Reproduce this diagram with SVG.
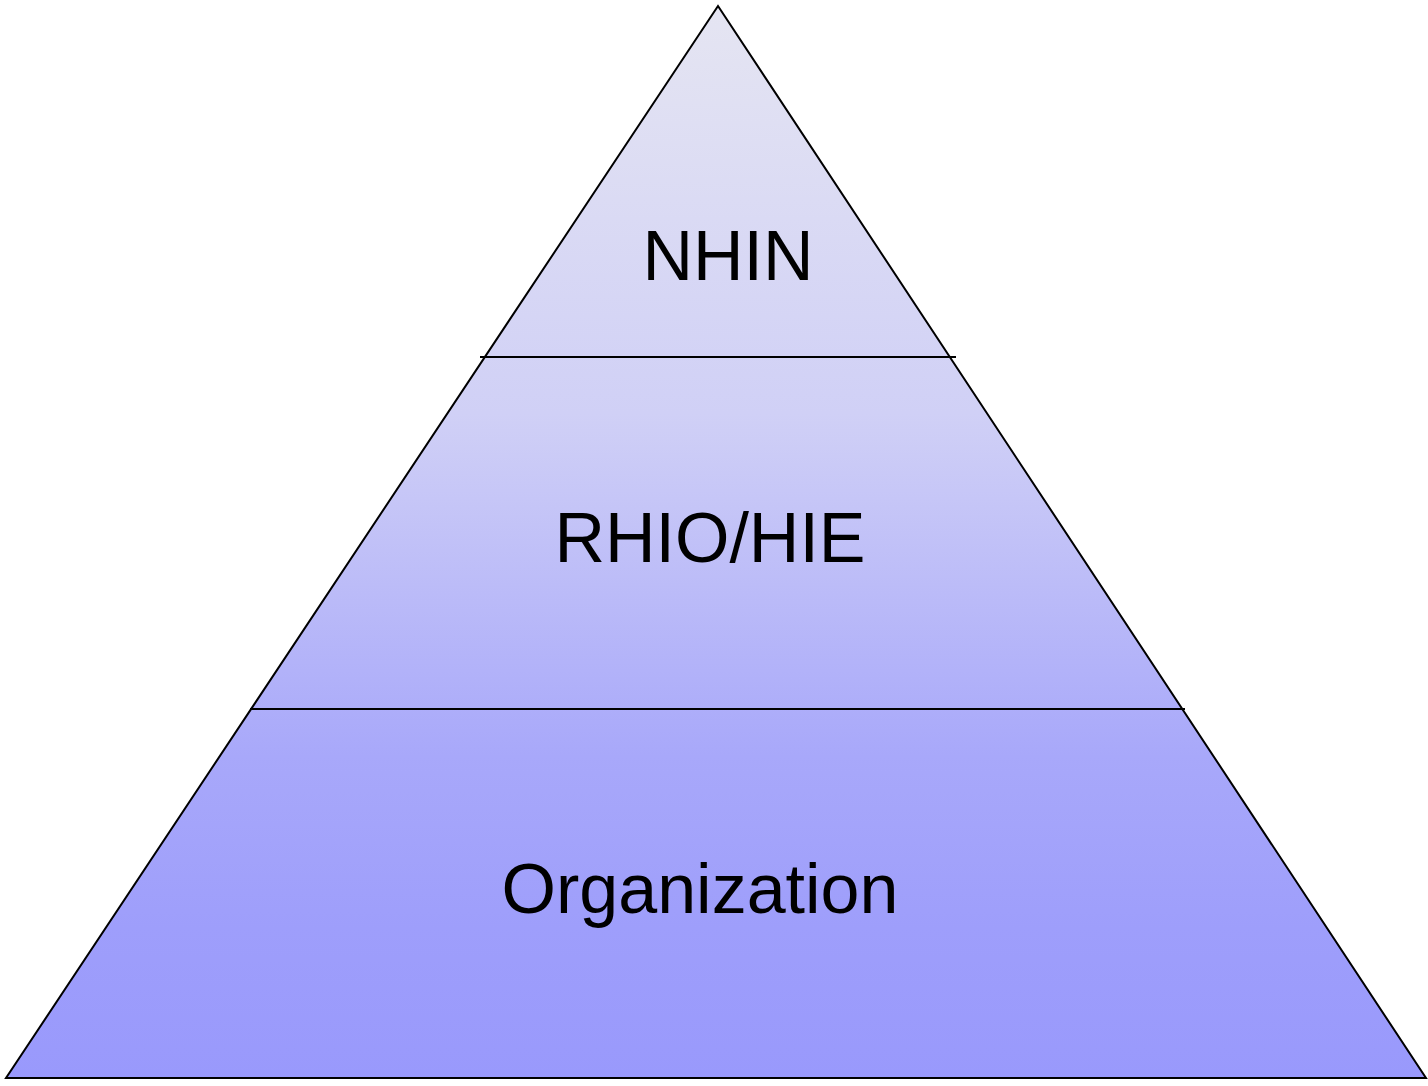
<svg xmlns="http://www.w3.org/2000/svg" width="1428" height="1086" viewBox="0 0 1428 1086">
  <defs>
    <linearGradient id="tierFill" x1="0" y1="6" x2="0" y2="1078" gradientUnits="userSpaceOnUse">
      <stop offset="0" stop-color="#E5E5F2"/>
      <stop offset="0.38" stop-color="#D0D0F6"/>
      <stop offset="0.7" stop-color="#A8A8FA"/>
      <stop offset="0.86" stop-color="#9E9EFB"/>
      <stop offset="1" stop-color="#9999FC"/>
    </linearGradient>
  </defs>
  <style>
    .edge { fill: none; stroke: #000; stroke-width: 2; }
    .label { font-family: "Liberation Sans", Arial, sans-serif; font-size: 70px; fill: #000; text-anchor: middle; }
  </style>
  <rect width="1428" height="1086" fill="#fff"/>
  <g id="pyramid">
    <polygon points="718,6 1426,1078 6,1078" fill="url(#tierFill)" stroke="#000" stroke-width="2" stroke-linejoin="miter"/>
  </g>
  <g id="connectors">
    <line class="edge" x1="480" y1="357" x2="956" y2="357"/>
    <line class="edge" x1="250" y1="709" x2="1185" y2="709"/>
  </g>
  <g id="tier-nhin">
    <text class="label" x="728" y="280">NHIN</text>
  </g>
  <g id="tier-rhio">
    <text class="label" x="710" y="562">RHIO/HIE</text>
  </g>
  <g id="tier-organization">
    <text class="label" x="700" y="913">Organization</text>
  </g>
</svg>
